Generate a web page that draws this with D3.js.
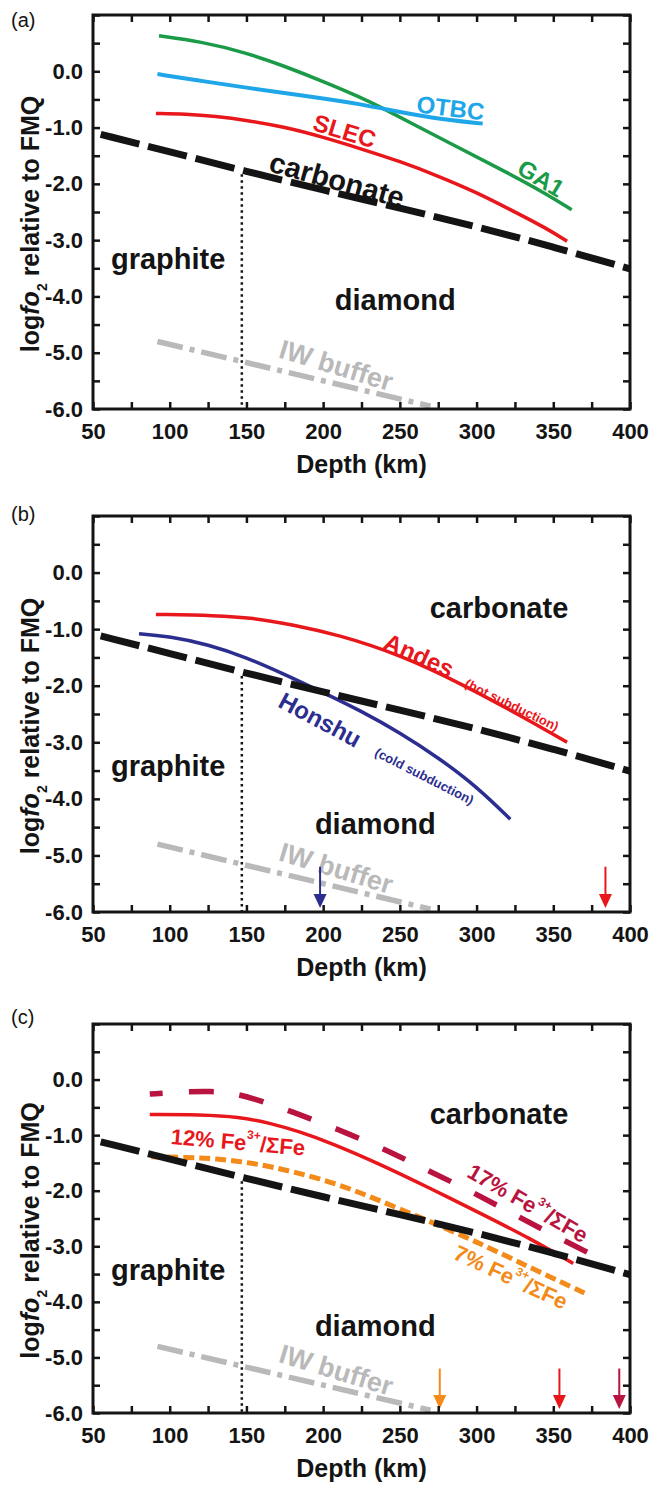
<!DOCTYPE html>
<html><head><meta charset="utf-8">
<script src="https://cdn.jsdelivr.net/npm/d3@7"></script>
<style>
body{margin:0;background:#fff}
svg{display:block}
text{font-family:"Liberation Sans",Arial,Helvetica,sans-serif}
</style>
</head><body>
<svg id="chart" width="663" height="1490"></svg>
<script>
// ---------- tick labels / axes ----------
const depthTicks = [50,75,100,125,150,175,200,225,250,275,300,325,350,375,400];
const depthLabels = [50,100,150,200,250,300,350,400];
const fo2Ticks = [1,0.5,0,-0.5,-1,-1.5,-2,-2.5,-3,-3.5,-4,-4.5,-5,-5.5,-6];
const fo2Labels = [0,-1,-2,-3,-4,-5,-6];
const panelNames = ["(a)","(b)","(c)"];

// ---------- reference buffers (all panels) ----------
const emodDepth = [55,100,150,200,250,300,350,400];
const emodFo2   = [-1.12,-1.43,-1.78,-2.11,-2.43,-2.76,-3.12,-3.51];
const iwDepth = [92,270];
const iwFo2   = [-4.8,-5.95];
const graphiteDiamondDepth = 147;

// ---------- panel (a) ----------
const ga1Depth = [93,120,150,175,200,225,240,260,290,320,345,362];
const ga1Fo2   = [0.63,0.53,0.33,0.09,-0.18,-0.47,-0.67,-0.96,-1.38,-1.8,-2.17,-2.46];
const otbcDepth = [92,125,150,175,205,225,240,270,304];
const otbcFo2   = [-0.05,-0.19,-0.29,-0.39,-0.5,-0.59,-0.67,-0.83,-0.93];
const slecDepth = [91,110,130,150,175,200,225,250,275,300,325,345,359];
const slecFo2   = [-0.75,-0.76,-0.8,-0.87,-0.99,-1.17,-1.38,-1.6,-1.86,-2.15,-2.5,-2.78,-3.02];

// ---------- panel (b) ----------
const andesDepth = [91,130,154,180,210,250,292,330,359];
const andesFo2   = [-0.74,-0.76,-0.8,-0.92,-1.1,-1.45,-1.99,-2.55,-3.0];
const honshuDepth = [80,100,125,150,175,200,225,250,275,300,322];
const honshuFo2   = [-1.08,-1.13,-1.27,-1.5,-1.8,-2.12,-2.45,-2.83,-3.27,-3.78,-4.36];
const arrowsBDepth = [198,384];

// ---------- panel (c) ----------
const fe17Depth = [87,110,127,140,154,182,210,240,258,290,320,350,384];
const fe17Fo2   = [-0.26,-0.22,-0.21,-0.24,-0.33,-0.6,-0.9,-1.25,-1.5,-1.92,-2.36,-2.8,-3.27];
const fe12Depth = [87,120,145,165,185,205,237,270,302,335,363];
const fe12Fo2   = [-0.63,-0.63,-0.67,-0.78,-0.94,-1.14,-1.52,-1.96,-2.4,-2.86,-3.31];
const fe7Depth = [88,110,130,154,180,210,237,265,290,310,340,371];
const fe7Fo2   = [-1.39,-1.4,-1.42,-1.5,-1.65,-1.88,-2.18,-2.5,-2.8,-3.05,-3.45,-3.85];
const arrowsCDepth = [276,354,393];
const arrowTop = -5.2, arrowTip = -5.93;

// ---------- styles ----------
const C = {black:"#141414", green:"#1b9a48", blue:"#1ea6e8", red:"#e8171c",
  navy:"#2c2e8f", crimson:"#b8143f", orange:"#f28b1a", gray:"#b9b9b9"};

const svg = d3.select("#chart");
const x = d3.scaleLinear().domain([50,400]).range([93,630]);
const zip = (a,b) => a.map((d,i)=>[d,b[i]]);

const panels = [
  {top:15, bottom:409, letterY:27},
  {top:516, bottom:912, letterY:521},
  {top:1024, bottom:1413, letterY:1024}
];

function drawPanel(p, idx){
  const y = d3.scaleLinear().domain([-6,1]).range([p.bottom,p.top]);
  const g = svg.append("g").style("font-weight","bold");
  const clipId = "clip"+idx;
  svg.append("clipPath").attr("id",clipId).append("rect")
    .attr("x",x(50)).attr("y",p.top).attr("width",x(400)-x(50)).attr("height",p.bottom-p.top);
  const lines = g.append("g").attr("clip-path",`url(#${clipId})`);
  const line = d3.line().x(d=>x(d[0])).y(d=>y(d[1])).curve(d3.curveBasis);
  const emodAt = d => {
    for(let i=0;i<emodDepth.length-1;i++){
      if(d>=emodDepth[i] && d<=emodDepth[i+1]){
        const t=(d-emodDepth[i])/(emodDepth[i+1]-emodDepth[i]);
        return emodFo2[i]+t*(emodFo2[i+1]-emodFo2[i]);
      }
    } return emodFo2[0];
  };
  const path = (data,color,w,dash,off) => lines.append("path").attr("d",line(data))
    .attr("fill","none").attr("stroke",color).attr("stroke-width",w)
    .attr("stroke-dasharray",dash||null).attr("stroke-dashoffset",off||0).attr("stroke-linecap","butt");

  // IW buffer
  path(zip(iwDepth,iwFo2),C.gray,5.5,"26,7,5,7");
  // graphite-diamond dotted
  lines.append("line").attr("x1",x(graphiteDiamondDepth)).attr("x2",x(graphiteDiamondDepth))
    .attr("y1",y(emodAt(graphiteDiamondDepth))+4).attr("y2",y(-6))
    .attr("stroke",C.black).attr("stroke-width",2.5).attr("stroke-dasharray","2.5,3.5");

  const label = (txt,d,v,rot,color,size) => {
    const t = g.append("text").attr("transform",`translate(${x(d)},${y(v)}) rotate(${rot})`)
      .attr("text-anchor","middle").attr("dominant-baseline","central")
      .attr("fill",color).attr("font-size",size);
    if(Array.isArray(txt)) txt.forEach(s=>{
      const ts=t.append("tspan").text(s.t);
      if(s.sup){ts.attr("font-size",size*0.55).attr("baseline-shift","65%");}
    }); else t.text(txt);
    return t;
  };
  const region = (txt,d,v) => g.append("text").attr("x",x(d)).attr("y",y(v))
    .attr("text-anchor","middle").attr("font-size",29).attr("fill",C.black).text(txt);

  if(idx===0){
    path(zip(ga1Depth,ga1Fo2),C.green,3.5);
    path(zip(otbcDepth,otbcFo2),C.blue,4);
    path(zip(slecDepth,slecFo2),C.red,3.5);
  }
  if(idx===1){
    path(zip(andesDepth,andesFo2),C.red,3.5);
    path(zip(honshuDepth,honshuFo2),C.navy,3.5);
  }
  if(idx===2){
    path(zip(fe17Depth,fe17Fo2),C.crimson,5.5,"25,26",12);
    path(zip(fe12Depth,fe12Fo2),C.red,3.5);
    path(zip(fe7Depth,fe7Fo2),C.orange,5,"11,5");
  }
  // EMOD
  path(zip(emodDepth,emodFo2),C.black,7,"40,9");

  // region labels
  region("graphite",99,idx===0?-3.51:-3.6);
  region("diamond",idx===0?247:234,idx===0?-4.24:-4.62);
  label("IW buffer",208.5,-5.23,17,C.gray,27);
  if(idx===0){
    label("carbonate",209,-1.93,15.5,C.black,29);
    label("OTBC",283,-0.65,7,C.blue,24);
    label("SLEC",214,-1.06,17,C.red,24);
    label("GA1",342,-1.9,31,C.green,24);
  } else {
    region("carbonate",314.6,-0.8);
  }
  if(idx===1){
    label("Andes",262.5,-1.46,24,C.red,24);
    label("(hot subduction)",323,-2.34,26,C.red,13);
    label("Honshu",198,-2.6,28,C.navy,24);
    label("(cold subduction)",266,-3.6,27,C.navy,13);
  }
  if(idx===2){
    label([{t:"12% Fe"},{t:"3+",sup:1},{t:"/ΣFe"}],144.5,-1.12,5,C.red,22);
    label([{t:"17% Fe"},{t:"3+",sup:1},{t:"/ΣFe"}],333.5,-2.22,30,C.crimson,22);
    label([{t:"7% Fe"},{t:"3+",sup:1},{t:"/ΣFe"}],322.4,-3.55,25,C.orange,22);
  }

  // arrows
  const arrows = idx===1 ? zip(arrowsBDepth,[C.navy,C.red]) : idx===2 ? zip(arrowsCDepth,[C.orange,C.red,C.crimson]) : [];
  arrows.forEach(([d,col])=>{
    const ax=x(d), y0=y(arrowTop), y1=y(arrowTip);
    g.append("line").attr("x1",ax).attr("x2",ax).attr("y1",y0).attr("y2",y1-10)
      .attr("stroke",col).attr("stroke-width",2);
    g.append("path").attr("d",`M${ax-6.5},${y1-14}L${ax+6.5},${y1-14}L${ax},${y1}Z`).attr("fill",col);
  });

  // axes
  const fmtY = v => fo2Labels.includes(v) ? v.toFixed(1) : "";
  const fmtX = v => depthLabels.includes(v) ? String(v) : "";
  const bottom = g.append("g").attr("transform",`translate(0,${p.bottom})`)
    .call(d3.axisBottom(x).tickValues(depthTicks).tickSize(-7).tickPadding(14).tickFormat(fmtX));
  const topA = g.append("g").attr("transform",`translate(0,${p.top})`)
    .call(d3.axisTop(x).tickValues(depthTicks).tickSize(-7).tickFormat(""));
  const left = g.append("g").attr("transform",`translate(${x(50)},0)`)
    .call(d3.axisLeft(y).tickValues(fo2Ticks).tickSize(-7).tickPadding(10).tickFormat(fmtY));
  const right = g.append("g").attr("transform",`translate(${x(400)},0)`)
    .call(d3.axisRight(y).tickValues(fo2Ticks).tickSize(-7).tickFormat(""));
  [bottom,topA,left,right].forEach(a=>{
    a.attr("font-family",null).attr("font-size",null);
    a.select(".domain").remove();
    a.selectAll(".tick line").attr("stroke",C.black).attr("stroke-width",2.5);
    a.selectAll("text").attr("font-size",22).attr("fill",C.black);
  });
  g.append("rect").attr("x",x(50)).attr("y",p.top).attr("width",x(400)-x(50)).attr("height",p.bottom-p.top)
    .attr("fill","none").attr("stroke",C.black).attr("stroke-width",3);

  // axis titles
  g.append("text").attr("x",(x(50)+x(400))/2).attr("y",p.bottom+64).attr("text-anchor","middle")
    .attr("font-size",25).attr("fill",C.black).text("Depth (km)");
  const yt = g.append("text").attr("transform",`translate(39,${(p.top+p.bottom)/2+12}) rotate(-90)`)
    .attr("text-anchor","middle").attr("font-size",25).attr("fill",C.black);
  yt.append("tspan").text("log");
  yt.append("tspan").attr("font-style","italic").text("fo");
  yt.append("tspan").attr("font-size",14).attr("baseline-shift","sub").text("2");
  yt.append("tspan").text(" relative to FMQ");

  // panel letter
  g.append("text").attr("x",11).attr("y",p.letterY).attr("font-size",20)
    .style("font-weight","normal").attr("fill",C.black).text(panelNames[idx]);
}
panels.forEach(drawPanel);
</script>
</body></html>
